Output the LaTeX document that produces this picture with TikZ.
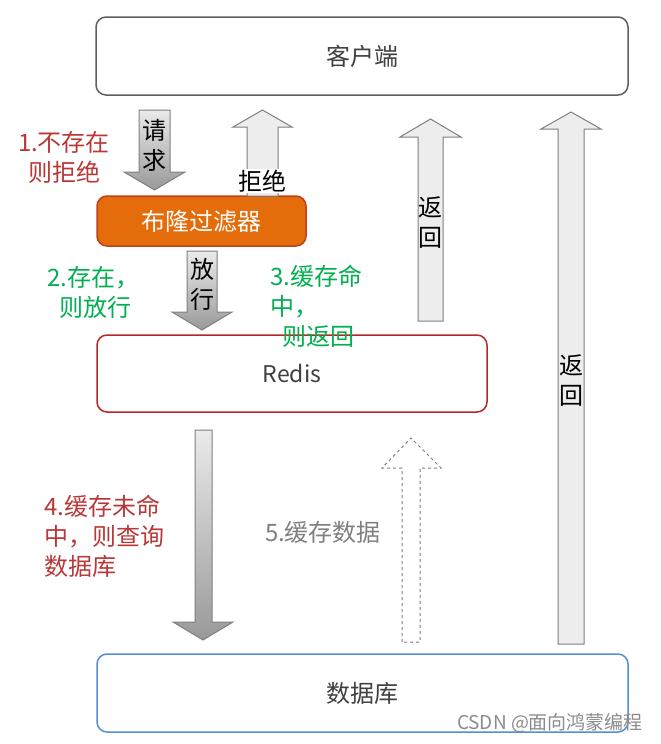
\documentclass[tikz,border=0pt]{standalone}
\usepackage{fontspec}
\setmainfont{Noto Sans CJK SC}
\definecolor{boxgray}{RGB}{96,96,96}
\definecolor{txtgray}{RGB}{64,64,64}
\definecolor{bloomfill}{RGB}{228,108,10}
\definecolor{bloomline}{RGB}{190,65,30}
\definecolor{redisline}{RGB}{180,40,40}
\definecolor{dbline}{RGB}{85,142,213}
\definecolor{stepred}{RGB}{185,55,55}
\definecolor{stepgreen}{RGB}{0,176,80}
\definecolor{arrline}{RGB}{127,127,127}
\definecolor{arrfill}{RGB}{237,237,237}

\begin{document}
\begin{tikzpicture}[x=1pt,y=-1pt,
  box/.style={draw,rounded corners=10pt,line width=1.5pt,fill=white,
    text=txtgray,font=\fontsize{24}{28}\selectfont},
  uparrow/.style={draw=arrline,fill=arrfill,line width=1pt},
  downarrow/.style={draw=arrline,line width=1pt,top color=black!8,bottom color=black!40},
  arrtext/.style={align=center,inner sep=0pt,font=\fontsize{24}{30}\selectfont},
  steptext/.style={align=left,inner sep=0pt,anchor=north west,font=\fontsize{24}{30}\selectfont}]
  \useasboundingbox (0,0) rectangle (661,744);

  % boxes
  \node[box,draw=boxgray,minimum width=532pt,minimum height=78pt] (client) at (362,56) {客户端};
  \node[box,draw=bloomline,fill=bloomfill,text=white,minimum width=209pt,minimum height=50pt] (bloom) at (201.5,221) {布隆过滤器};
  \node[box,draw=redisline,minimum width=390pt,minimum height=77pt,font=\fontsize{23}{28}\selectfont] (redis) at (292,373.5) {Redis};
  \node[box,draw=dbline,minimum width=531pt,minimum height=78pt] (db) at (362.5,693) {数据库};

  % request / reject
  \draw[downarrow] (139,110) -- (139,172) -- (124,172) -- (154.5,190) -- (185,172) -- (170,172) -- (170,110) -- cycle;
  \node[arrtext] (req) at (154.5,145) {请\\求};
  \draw[uparrow] (247,196) -- (247,127) -- (233,127) -- (262.5,110) -- (292,127) -- (278,127) -- (278,196) -- cycle;
  \node[arrtext,fill=white,inner sep=1pt] (rej) at (262,181) {拒绝};
  \node[steptext,align=center,anchor=center,text=stepred] (s1) at (64,157) {1.不存在\\则拒绝};

  % pass
  \draw[downarrow] (187,251) -- (187,312) -- (172,312) -- (202,330) -- (232,312) -- (217,312) -- (217,251) -- cycle;
  \node[arrtext] (pass) at (202,284) {放\\行};
  \node[steptext,text=stepgreen] (s2) at (47,266) {2.存在，\\\hspace*{12pt}则放行};

  % hit
  \draw[uparrow] (418,321) -- (418,137) -- (400,137) -- (430.5,119) -- (461,137) -- (443,137) -- (443,321) -- cycle;
  \node[arrtext] (ret1) at (430.5,223) {返\\回};
  \node[steptext,text=stepgreen] (s3) at (270,265) {3.缓存命\\中，\\\hspace*{12pt}则返回};

  % miss
  \draw[downarrow] (195,430) -- (195,622) -- (173,622) -- (203,640) -- (233,622) -- (212,622) -- (212,430) -- cycle;
  \node[steptext,text=stepred] (s4) at (44,495) {4.缓存未命\\中，则查询\\数据库};

  % write back
  \draw[dashed,draw=arrline,line width=1pt] (402,642) -- (402,468) -- (382,468) -- (411,438) -- (441,468) -- (420,468) -- (420,642) -- cycle;
  \node[steptext,anchor=center,text=arrline] (s5) at (323,532) {5.缓存数据};

  % db to client
  \draw[uparrow] (558,644) -- (558,129) -- (541,129) -- (571,112) -- (601,129) -- (584,129) -- (584,644) -- cycle;
  \node[arrtext] (ret2) at (571,381) {返\\回};

  \node[inner sep=0pt,text=black!45,font=\fontsize{19}{22}\selectfont] (mark) at (550,723) {CSDN @面向鸿蒙编程};
\end{tikzpicture}
\end{document}
